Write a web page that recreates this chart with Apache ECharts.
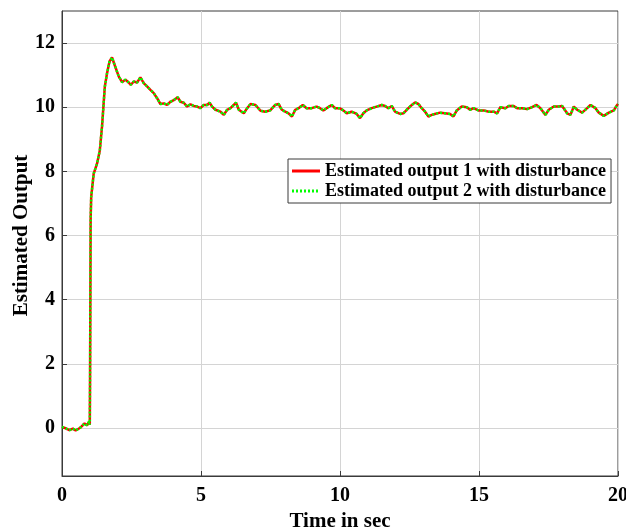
<!DOCTYPE html>
<html>
<head>
<meta charset="utf-8">
<script src="https://cdn.jsdelivr.net/npm/echarts@6/dist/echarts.min.js"></script>
<style>
html,body{margin:0;padding:0;background:#fff;}
#chart{width:626px;height:529px;}
</style>
</head>
<body>
<div id="chart"></div>
<script>
var timeSec = [0.00,0.15,0.27,0.39,0.49,0.61,0.69,0.81,0.90,0.97,1.00,1.01,1.03,1.05,1.14,1.26,1.36,1.44,1.54,1.62,1.71,1.80,1.90,2.04,2.16,2.28,2.40,2.48,2.58,2.70,2.82,2.94,3.06,3.18,3.30,3.42,3.54,3.66,3.78,3.90,4.02,4.16,4.26,4.38,4.50,4.62,4.74,4.86,4.98,5.10,5.22,5.31,5.40,5.52,5.70,5.82,5.94,6.06,6.26,6.36,6.54,6.66,6.78,6.96,7.14,7.31,7.49,7.67,7.79,7.91,8.03,8.15,8.27,8.39,8.51,8.66,8.80,8.98,9.16,9.28,9.40,9.52,9.70,9.82,9.98,10.12,10.24,10.42,10.60,10.72,10.84,10.96,11.14,11.32,11.50,11.62,11.74,11.86,11.98,12.16,12.28,12.40,12.52,12.70,12.82,12.94,13.06,13.18,13.30,13.41,13.60,13.78,13.96,14.08,14.20,14.38,14.56,14.68,14.80,14.98,15.17,15.35,15.53,15.65,15.77,15.95,16.07,16.25,16.37,16.55,16.73,16.91,17.07,17.21,17.39,17.51,17.69,17.87,17.99,18.17,18.29,18.41,18.53,18.71,18.89,19.01,19.19,19.31,19.49,19.67,19.85,19.97,20.00];

var output1 = [0.03,-0.02,-0.07,-0.02,-0.08,-0.02,0.03,0.14,0.08,0.19,0.10,1.70,6.50,7.20,7.93,8.24,8.65,9.40,10.64,11.06,11.43,11.55,11.30,10.96,10.78,10.86,10.77,10.70,10.80,10.77,10.93,10.75,10.65,10.54,10.44,10.28,10.10,10.12,10.07,10.17,10.22,10.31,10.17,10.14,10.02,10.09,10.04,10.02,9.97,10.07,10.07,10.14,10.02,9.92,9.86,9.76,9.92,9.97,10.14,9.92,9.81,9.97,10.10,10.07,9.89,9.86,9.90,10.07,10.10,9.92,9.86,9.81,9.71,9.92,9.97,10.07,9.97,9.97,10.02,9.97,9.90,9.97,10.07,9.97,9.97,9.90,9.81,9.86,9.79,9.66,9.81,9.90,9.97,10.02,10.07,10.04,9.97,10.04,9.86,9.79,9.81,9.92,10.02,10.15,10.10,9.97,9.86,9.71,9.76,9.79,9.83,9.81,9.79,9.71,9.90,10.02,10.00,9.92,9.97,9.90,9.90,9.86,9.86,9.81,10.00,9.97,10.04,10.04,9.97,9.97,9.94,10.00,10.07,9.97,9.76,9.92,10.02,10.02,10.04,9.81,9.76,10.02,9.92,9.83,9.97,10.07,9.97,9.83,9.73,9.83,9.90,10.07,10.10];

var output2 = [0.03,-0.02,-0.07,-0.02,-0.08,-0.02,0.03,0.14,0.08,0.19,0.10,1.70,6.50,7.20,7.93,8.24,8.65,9.40,10.64,11.06,11.43,11.55,11.30,10.96,10.78,10.86,10.77,10.70,10.80,10.77,10.93,10.75,10.65,10.54,10.44,10.28,10.10,10.12,10.07,10.17,10.22,10.31,10.17,10.14,10.02,10.09,10.04,10.02,9.97,10.07,10.07,10.14,10.02,9.92,9.86,9.76,9.92,9.97,10.14,9.92,9.81,9.97,10.10,10.07,9.89,9.86,9.90,10.07,10.10,9.92,9.86,9.81,9.71,9.92,9.97,10.07,9.97,9.97,10.02,9.97,9.90,9.97,10.07,9.97,9.97,9.90,9.81,9.86,9.79,9.66,9.81,9.90,9.97,10.02,10.07,10.04,9.97,10.04,9.86,9.79,9.81,9.92,10.02,10.15,10.10,9.97,9.86,9.71,9.76,9.79,9.83,9.81,9.79,9.71,9.90,10.02,10.00,9.92,9.97,9.90,9.90,9.86,9.86,9.81,10.00,9.97,10.04,10.04,9.97,9.97,9.94,10.00,10.07,9.97,9.76,9.92,10.02,10.02,10.04,9.81,9.76,10.02,9.92,9.83,9.97,10.07,9.97,9.83,9.73,9.83,9.90,10.07,10.10];

var seriesNames = ['Estimated output 1 with disturbance', 'Estimated output 2 with disturbance'];
var yTickValues = [0, 2, 4, 6, 8, 10, 12];
var xTickValues = [0, 5, 10, 15, 20];

function pairs(xs, ys) { return xs.map(function (x, i) { return [x, ys[i]]; }); }

var FONT = '"Liberation Serif", "Times New Roman", serif';
var AXIS_COLOR = '#3a3a3a';
var GRID_COLOR = '#d4d4d4';

var chart = echarts.init(document.getElementById('chart'), null, {renderer: 'canvas'});
chart.setOption({
  animation: false,
  backgroundColor: '#ffffff',
  grid: {left: 62, right: 8, top: 11, bottom: 53, show: true, borderColor: AXIS_COLOR, borderWidth: 1,
         backgroundColor: 'transparent', outerBoundsMode: 'none', containLabel: false},
  legend: {
    orient: 'vertical', left: 288, top: 159, z: 50,
    padding: [3, 5, 3, 4], itemGap: 2, itemWidth: 28, itemHeight: 3,
    backgroundColor: '#ffffff', borderColor: AXIS_COLOR, borderWidth: 1,
    textStyle: {fontFamily: FONT, fontWeight: 'bold', fontSize: 18, color: '#000'},
    data: [
      {name: seriesNames[0], icon: 'path://M0,0H28V3H0Z', itemStyle: {color: '#ff0000'}},
      {name: seriesNames[1], icon: 'path://M0,0H2V3H0Z M4,0H6V3H4Z M8,0H10V3H8Z M12,0H14V3H12Z M16,0H18V3H16Z M20,0H22V3H20Z M24,0H26V3H24Z M26,0H28V0.01H26Z', itemStyle: {color: '#00ff00'}}
    ]
  },
  xAxis: {
    type: 'value', min: 0, max: 20, interval: 5,
    name: 'Time in sec', nameLocation: 'middle', nameGap: 35,
    nameTextStyle: {fontFamily: FONT, fontWeight: 'bold', fontSize: 21, color: '#000'},
    axisLine: {show: true, onZero: false, lineStyle: {color: AXIS_COLOR, width: 1}},
    axisTick: {show: true, inside: true, length: 5, lineStyle: {color: AXIS_COLOR}},
    axisLabel: {fontFamily: FONT, fontWeight: 'bold', fontSize: 20, color: '#000', margin: 10},
    splitLine: {show: true, lineStyle: {color: GRID_COLOR, width: 1}}
  },
  yAxis: {
    type: 'value', min: -1.5, max: 13,
    name: 'Estimated Output', nameLocation: 'middle', nameGap: 30, nameMoveOverlap: false,
    nameTextStyle: {fontFamily: FONT, fontWeight: 'bold', fontSize: 21, color: '#000', padding: [0, 0, 0, 16]},
    axisLine: {show: true, onZero: false, lineStyle: {color: AXIS_COLOR, width: 1}},
    axisTick: {show: true, inside: true, length: 5, lineStyle: {color: AXIS_COLOR}, customValues: yTickValues},
    axisLabel: {fontFamily: FONT, fontWeight: 'bold', fontSize: 20, color: '#000', margin: 7, customValues: yTickValues},
    splitLine: {show: false}
  },
  series: [
    {name: 'ygrid', type: 'line', data: [], silent: true, z: 0,
     markLine: {silent: true, symbol: 'none', label: {show: false}, animation: false, z: 0,
       lineStyle: {color: GRID_COLOR, width: 1, type: 'solid'},
       emphasis: {disabled: true},
       data: yTickValues.map(function (v) { return {yAxis: v}; })}},
    {name: seriesNames[0], type: 'line', data: pairs(timeSec, output1), showSymbol: false, symbol: 'none', z: 3,
     lineStyle: {color: '#ff0000', width: 2.5}, itemStyle: {color: '#ff0000'}},
    {name: seriesNames[1], type: 'line', data: pairs(timeSec, output2), showSymbol: false, symbol: 'none', z: 4,
     lineStyle: {color: '#00ff00', width: 2.5, type: [2, 2]}, itemStyle: {color: '#00ff00'}}
  ]
});
</script>
</body>
</html>
